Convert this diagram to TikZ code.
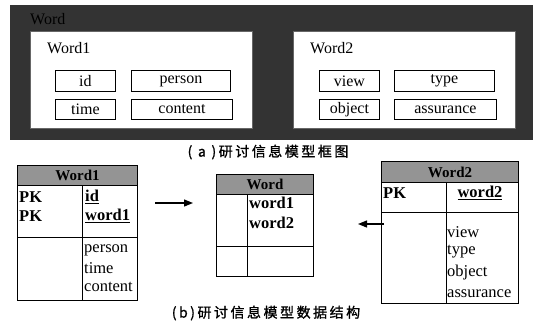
\documentclass[tikz,border=0pt]{standalone}
\usepackage{fontspec}
\setmainfont{Liberation Serif}
\newfontfamily\cjk{Noto Sans CJK SC}
\usetikzlibrary{arrows.meta}
\begin{document}
\begin{tikzpicture}[x=1pt,y=-1pt,
  txt/.style={font=\rmfamily\fontsize{16}{18}\selectfont, inner sep=0pt},
  fbox/.style={draw, line width=0.9pt, fill=white, font=\rmfamily\fontsize{16}{18}\selectfont, inner sep=0pt, anchor=north west},
  tabline/.style={line width=1pt},
  hdr/.style={fill=black!42, draw, line width=1pt},
  btxt/.style={font=\rmfamily\fontsize{16.5}{18}\selectfont\bfseries, inner sep=0pt, anchor=west},
  rtxt/.style={font=\rmfamily\fontsize{16.5}{18}\selectfont, inner sep=0pt, anchor=west},
  htxt/.style={font=\rmfamily\fontsize{15}{17}\selectfont\bfseries, inner sep=0pt},
  captxt/.style={font=\cjk\fontsize{14}{16}\selectfont\addfontfeature{LetterSpace=18,FakeBold=1.2}, inner sep=0pt},
  arr/.style={line width=1.3pt, -{Triangle[length=9pt,width=7pt]}}
]
\useasboundingbox (0,0) rectangle (534,325);
% ---------- (a) frame ----------
\node[draw=none, fill=black!80, minimum width=523, minimum height=135, inner sep=0pt, anchor=north west] (frame) at (10,5) {};
\node[txt, anchor=west] (wordlbl) at (30,19) {Word};
\node[draw=black!60, fill=white, minimum width=222, minimum height=97, inner sep=0pt, anchor=north west] (w1box) at (30,31) {};
\node[draw=black!60, fill=white, minimum width=222, minimum height=97, inner sep=0pt, anchor=north west] (w2box) at (293,31) {};
\node[txt, anchor=west] (w1t) at (47,48) {Word1};
\node[txt, anchor=west] (w2t) at (310,48) {Word2};
\node[fbox, minimum width=60, minimum height=21] (id) at (55,70) {id};
\node[fbox, minimum width=99, minimum height=21] (person) at (131,70) {person};
\node[fbox, minimum width=60, minimum height=20] (time) at (55,99) {time};
\node[fbox, minimum width=101, minimum height=20] (content) at (131,99) {content};
\node[fbox, minimum width=60, minimum height=21] (view) at (319,70) {view};
\node[fbox, minimum width=100, minimum height=21] (type) at (394,70) {type};
\node[fbox, minimum width=60, minimum height=20] (object) at (319,99) {object};
\node[fbox, minimum width=102, minimum height=20] (assurance) at (394,99) {assurance};
\node[captxt] (capa) at (268,152) {( a )研讨信息模型框图};
% ---------- (b) tables ----------
% Word1 table
\node[hdr, minimum width=120, minimum height=20, inner sep=0pt, anchor=north west] (t1h) at (17,165) {};
\node[htxt] (t1ht) at (t1h.center) {Word1};
\node[draw, line width=1pt, minimum width=120, minimum height=115, inner sep=0pt, anchor=north west] (t1) at (17,185) {};
\draw[tabline] (17,237) -- (137,237);
\draw[tabline] (82,185) -- (82,300);
\node[btxt] (t1pk1) at (19,197) {PK};
\node[btxt] (t1pk2) at (19,216) {PK};
\node[btxt] (t1id) at (85,197) {\underline{id}};
\node[btxt] (t1w1) at (85,216) {\underline{word1}};
\node[rtxt] (t1p) at (84,250) {person};
\node[rtxt] (t1t) at (84,268) {time};
\node[rtxt] (t1c) at (84,287) {content};
% Word table
\node[hdr, minimum width=97, minimum height=20, inner sep=0pt, anchor=north west] (t0h) at (216,174) {};
\node[htxt] (t0ht) at (t0h.center) {Word};
\node[draw, line width=1pt, minimum width=97, minimum height=82, inner sep=0pt, anchor=north west] (t0) at (216,194) {};
\draw[tabline] (216,246) -- (313,246);
\draw[tabline] (247,194) -- (247,276);
\node[btxt] (t0w1) at (249,203) {word1};
\node[btxt] (t0w2) at (249,223) {word2};
% Word2 table
\node[hdr, minimum width=137, minimum height=21, inner sep=0pt, anchor=north west] (t2h) at (381,161) {};
\node[htxt] (t2ht) at (t2h.center) {Word2};
\node[draw, line width=1pt, minimum width=137, minimum height=121, inner sep=0pt, anchor=north west] (t2) at (381,182) {};
\draw[tabline] (381,212) -- (518,212);
\draw[tabline] (446,182) -- (446,303);
\node[btxt] (t2pk) at (383,193) {PK};
\node[btxt, anchor=center] (t2w2) at (480,193) {\underline{word2}};
\node[rtxt] (t2v) at (447,232) {view};
\node[rtxt] (t2t) at (447,252) {type};
\node[rtxt] (t2o) at (447,273) {object};
\node[rtxt] (t2a) at (447,294) {assurance};
% arrows
\coordinate (a1s) at (155,203);
\coordinate (a1e) at (193,203);
\coordinate (a2s) at (384,224);
\coordinate (a2e) at (358,224);
\draw[arr] (a1s) -- (a1e);
\draw[arr] (a2s) -- (a2e);
\node[captxt] (capb) at (266,313) {(b)研讨信息模型数据结构};
\end{tikzpicture}
\end{document}
